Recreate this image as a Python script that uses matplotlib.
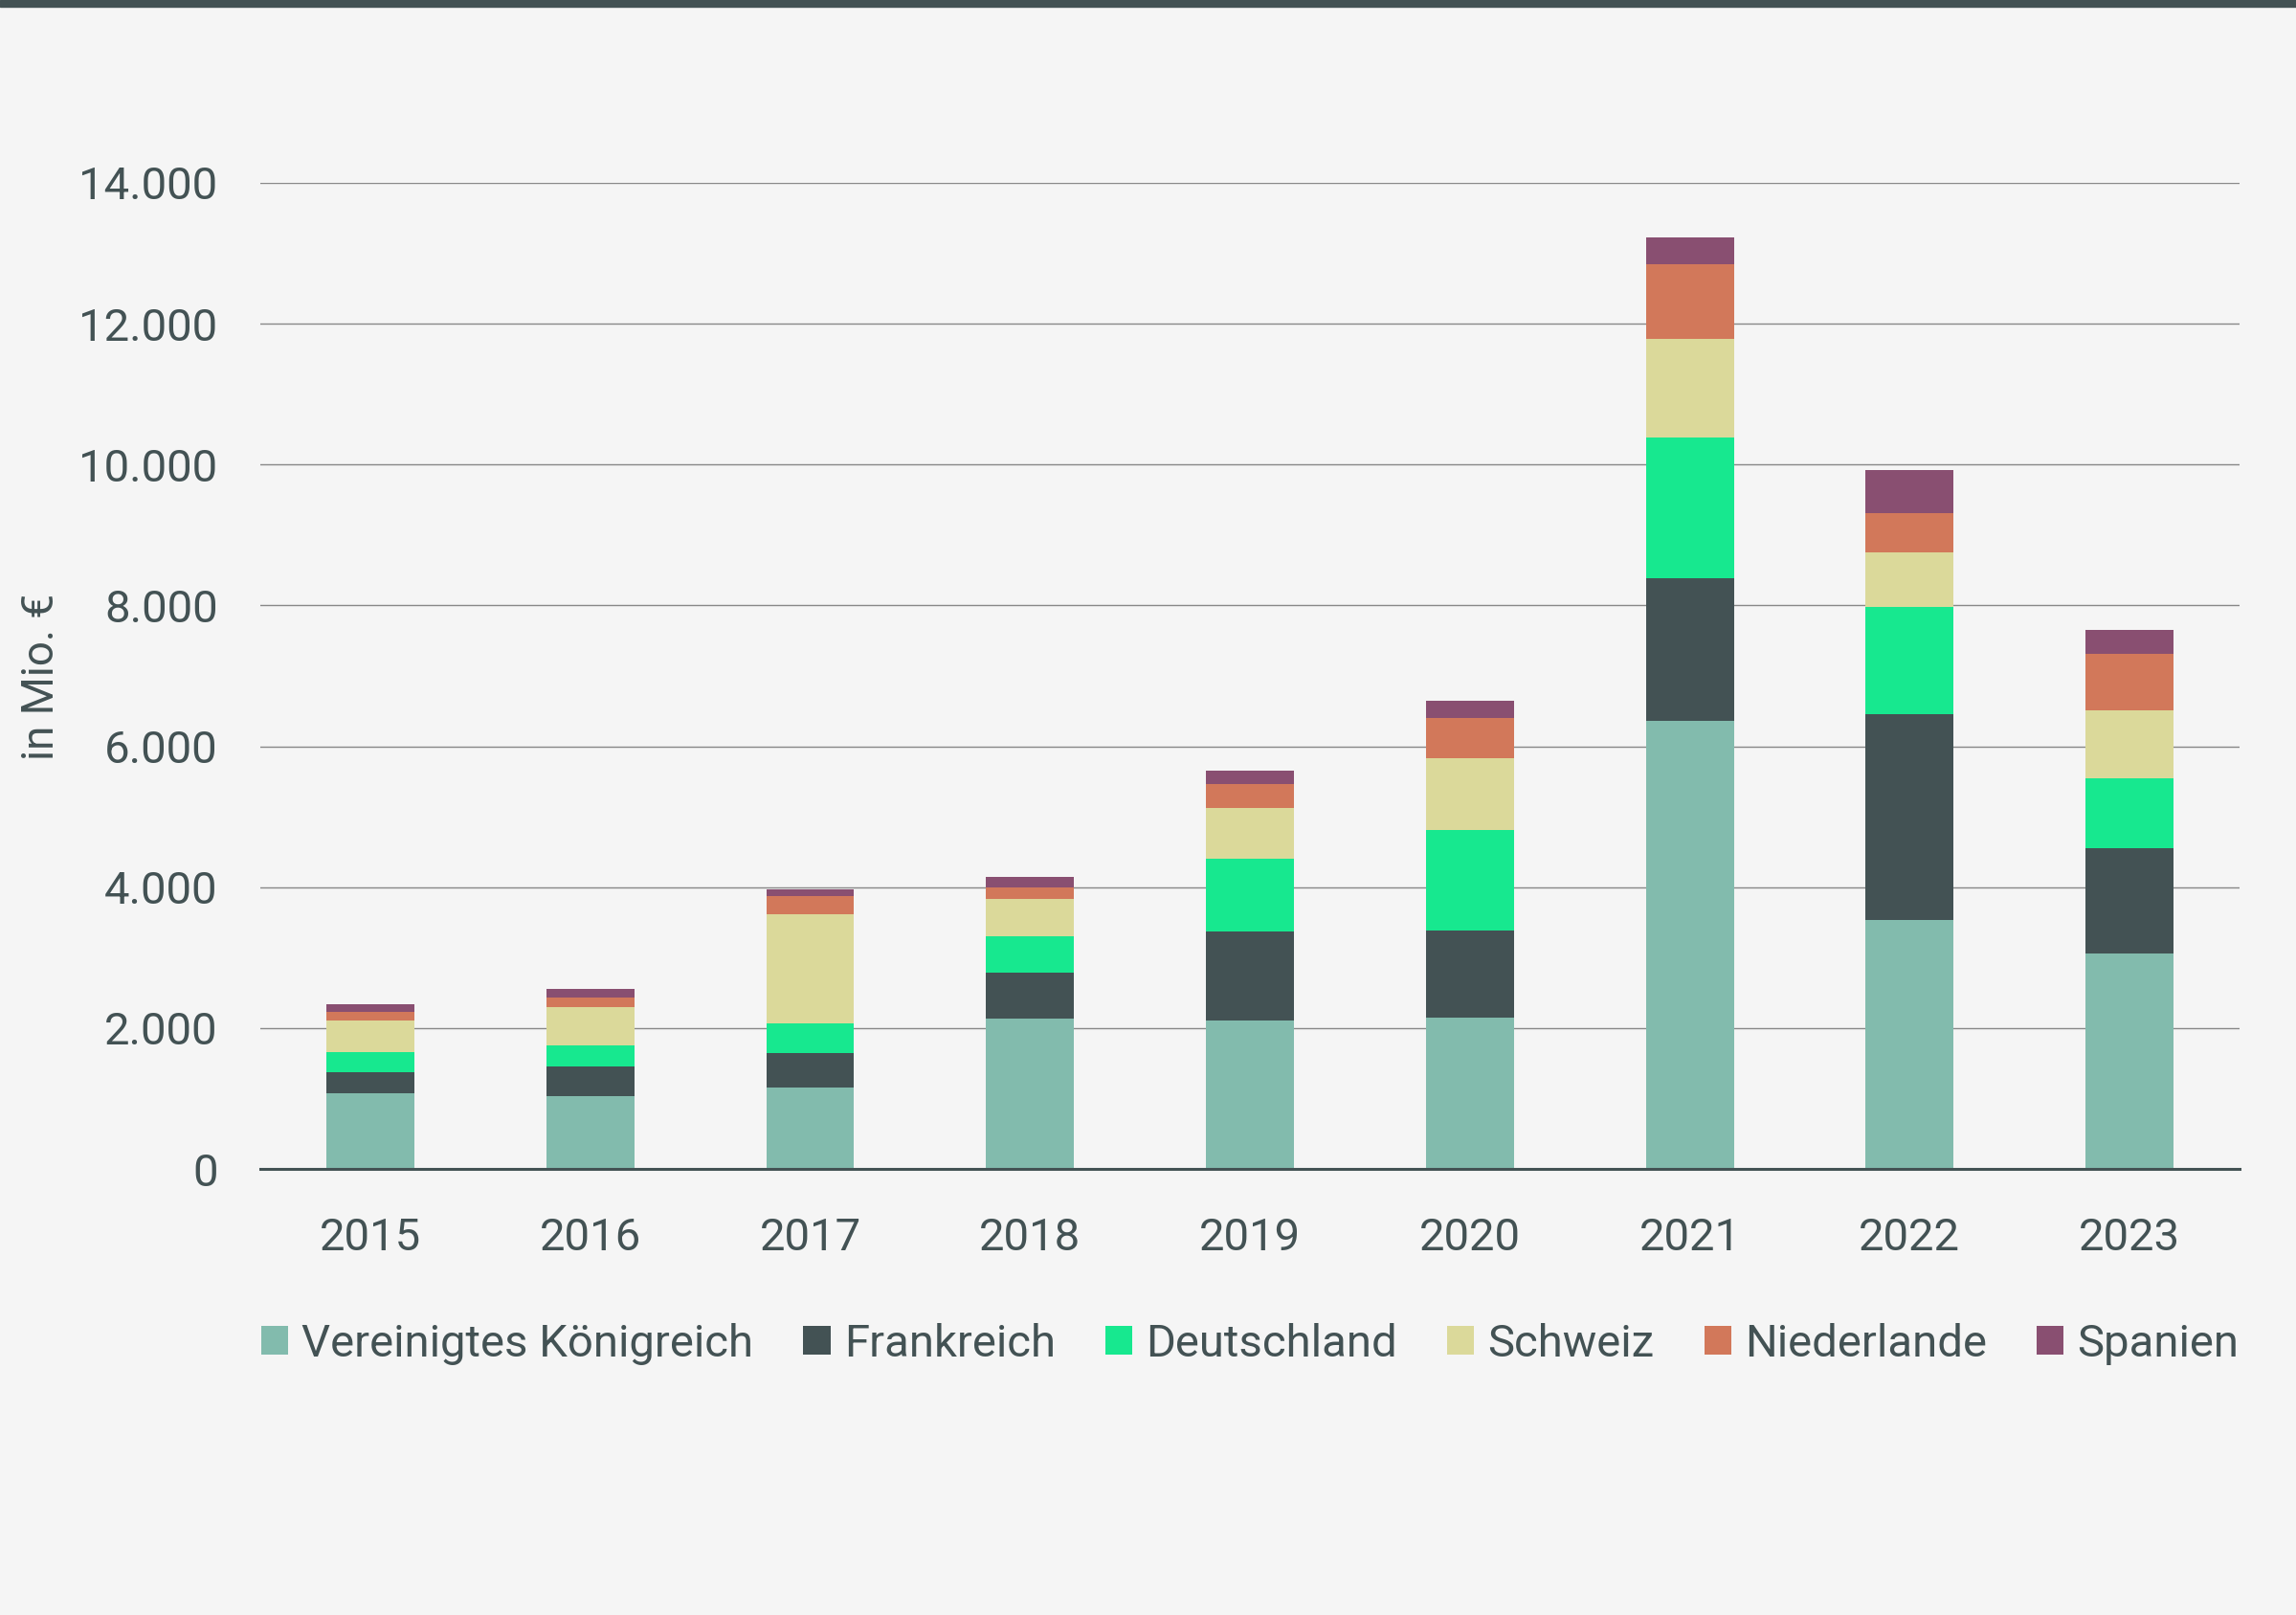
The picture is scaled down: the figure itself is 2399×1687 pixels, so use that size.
import numpy as np
import matplotlib.pyplot as plt
from matplotlib.patches import Rectangle

years = ["2015", "2016", "2017", "2018", "2019", "2020", "2021", "2022", "2023"]
countries = ["Vereinigtes Königreich", "Frankreich", "Deutschland", "Schweiz", "Niederlande", "Spanien"]

uk = [1080, 1040, 1160, 2130, 2110, 2150, 6360, 3530, 3060]
fr = [290, 420, 490, 660, 1260, 1230, 2020, 2930, 1500]
de = [290, 290, 420, 510, 1040, 1430, 2000, 1520, 980]
ch = [450, 550, 1550, 530, 720, 1020, 1400, 780, 970]
nl = [120, 140, 250, 160, 330, 570, 1060, 550, 800]
es = [110, 110, 100, 160, 190, 250, 390, 610, 340]

colors = ["#82bbad", "#435254", "#17e88f", "#dbd99a", "#d2785a", "#894f71"]
text_color = "#435254"

plt.rcParams["font.family"] = ["Roboto", "DejaVu Sans"]

fig = plt.figure(figsize=(23.99, 16.87), dpi=100, facecolor="#f5f5f5")
ax = fig.add_axes([0.1134, 0.2762, 0.862, 0.6106])
ax.set_facecolor("#f5f5f5")

# top band
fig.patches.append(Rectangle((0, 0.9958), 1, 0.0042, transform=fig.transFigure,
                             color="#435254", zorder=5))

x = np.arange(len(years))
bottom = np.zeros(len(years))
for name, vals, c in zip(countries, [uk, fr, de, ch, nl, es], colors):
    ax.bar(x, vals, width=0.4, bottom=bottom, color=c, label=name, zorder=3)
    bottom += np.array(vals)

ax.set_xlim(-0.5, 8.5)
ax.set_ylim(0, 14000)
ax.set_yticks(range(0, 14001, 2000))
ax.set_yticklabels([f"{v:,}".replace(",", ".") for v in range(0, 14001, 2000)])
ax.set_xticks(x)
ax.set_xticklabels(years)
ax.grid(axis="y", color="#888888", linewidth=1.0, zorder=0)
ax.set_axisbelow(True)

for s in ["top", "right", "left"]:
    ax.spines[s].set_visible(False)
ax.spines["bottom"].set_color("#435254")
ax.spines["bottom"].set_linewidth(2.2)
ax.spines["bottom"].set_zorder(4)

ax.tick_params(axis="both", length=0, labelsize=34, labelcolor=text_color)
ax.tick_params(axis="y", pad=32)
ax.tick_params(axis="x", pad=36)

fig.text(0.018, 0.581, "in Mio. €", rotation=90, ha="center", va="center",
         fontsize=33, color=text_color)

fig.legend(loc="center", bbox_to_anchor=(0.5445, 0.168), ncol=6, frameon=False,
           fontsize=34, labelcolor=text_color, handlelength=0.6, handleheight=0.6,
           handletextpad=0.3, columnspacing=1.1)

fig.savefig("out.png", dpi=100, facecolor=fig.get_facecolor())
